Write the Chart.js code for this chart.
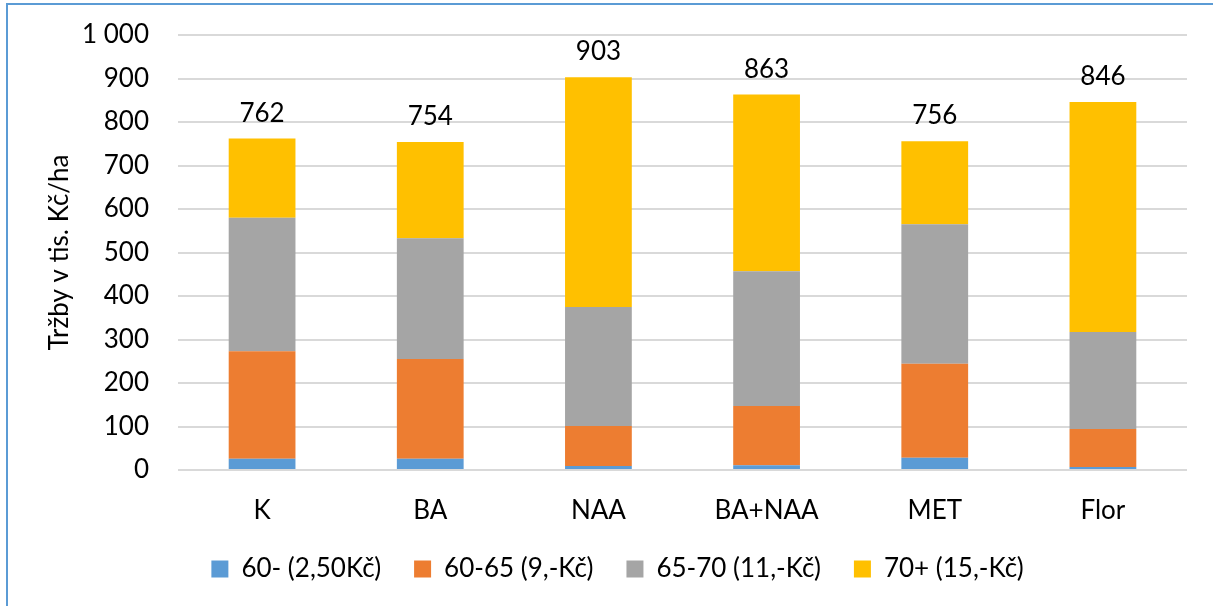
<!DOCTYPE html>
<html>
<head>
<meta charset="utf-8">
<script src="https://cdn.jsdelivr.net/npm/chart.js@4/dist/chart.umd.min.js"></script>
<style>
  html, body { margin: 0; padding: 0; background: #fff; overflow: hidden; }
  #frame { position: absolute; left: 6px; top: 3px; width: 1230px; height: 630px; border: 2px solid #5b9bd5; }
  #wrap { position: absolute; left: 0; top: 0; width: 1213px; height: 606px; }
</style>
</head>
<body>
<div id="frame"></div>
<div id="wrap"><canvas id="chart" width="1213" height="606"></canvas></div>
<script>
// ---------- Data ----------
const categories = ['K', 'BA', 'NAA', 'BA+NAA', 'MET', 'Flor'];
const seriesNames = ['60- (2,50Kč)', '60-65 (9,-Kč)', '65-70 (11,-Kč)', '70+ (15,-Kč)'];
const under60  = [26, 26, 9, 11, 28, 7];
const from6065 = [247, 229, 92, 136, 216, 87];
const from6570 = [307, 278, 274, 310, 321, 223];
const over70   = [182, 221, 528, 406, 191, 529];
const totals   = [762, 754, 903, 863, 756, 846];
const yTicks   = [0, 100, 200, 300, 400, 500, 600, 700, 800, 900, 1000];
const colors   = ['#5b9bd5', '#ed7d31', '#a5a5a5', '#ffc000'];

const FONT = 'Lato, "Open Sans", sans-serif';
const FS = 26;

// ---------- Helpers ----------
function thousands(v) {
  return String(v).replace(/\B(?=(\d{3})+(?!\d))/g, ' ');
}

// total labels above each stack
const totalLabels = {
  id: 'totalLabels',
  afterDatasetsDraw(chart) {
    const ctx = chart.ctx;
    const last = chart.getDatasetMeta(chart.data.datasets.length - 1);
    ctx.save();
    ctx.font = FS + 'px ' + FONT;
    ctx.fillStyle = '#000';
    ctx.textAlign = 'center';
    ctx.textBaseline = 'alphabetic';
    last.data.forEach((bar, i) => {
      ctx.fillText(thousands(totals[i]), bar.x, bar.y - 17);
    });
    ctx.restore();
  }
};

// legend: fixed height, then nudged into the reference position
const legendPlace = {
  id: 'legendPlace',
  beforeInit(chart) {
    const fit = chart.legend.fit;
    chart.legend.fit = function () {
      fit.bind(chart.legend)();
      this.height = 84;
    };
  },
  afterLayout(chart) {
    const lg = chart.legend;
    lg.top += 1;
    lg.left += 24;
    lg.right += 24;
  }
};

const datasets = [under60, from6065, from6570, over70].map((d, i) => ({
  label: seriesNames[i],
  data: d,
  backgroundColor: colors[i],
  borderWidth: 0,
  categoryPercentage: 1,
  barPercentage: 0.397
}));

new Chart(document.getElementById('chart'), {
  type: 'bar',
  data: { labels: categories, datasets },
  options: {
    responsive: false,
    animation: false,
    layout: { padding: { left: 0, right: 26, top: 35, bottom: 0 } },
    plugins: {
      legend: {
        position: 'bottom',
        labels: {
          boxWidth: 17,
          boxHeight: 17,
          padding: 33,
          color: '#000',
          font: { family: FONT, size: FS }
        }
      },
      tooltip: { enabled: false }
    },
    scales: {
      x: {
        stacked: true,
        grid: { display: false },
        border: { display: false },
        ticks: { color: '#000', padding: 17, font: { family: FONT, size: FS } },
        afterFit(scale) { scale.height = 52; }
      },
      y: {
        stacked: true,
        min: 0,
        max: 1000,
        afterBuildTicks(scale) { scale.ticks = yTicks.map(v => ({ value: v })); },
        grid: { color: '#d9d9d9', lineWidth: 2, drawTicks: false },
        border: { display: false },
        ticks: {
          color: '#000',
          padding: 29,
          font: { family: FONT, size: FS },
          callback: v => thousands(v)
        },
        title: {
          display: true,
          text: 'Tržby v tis. Kč/ha',
          color: '#000',
          font: { family: FONT, size: FS },
          padding: { top: 44, bottom: 0 }
        },
        afterFit(scale) {
          scale.width = 178;
          scale.paddingTop = 0;
          scale.paddingBottom = 0;
        }
      }
    }
  },
  plugins: [totalLabels, legendPlace]
});
</script>
</body>
</html>
